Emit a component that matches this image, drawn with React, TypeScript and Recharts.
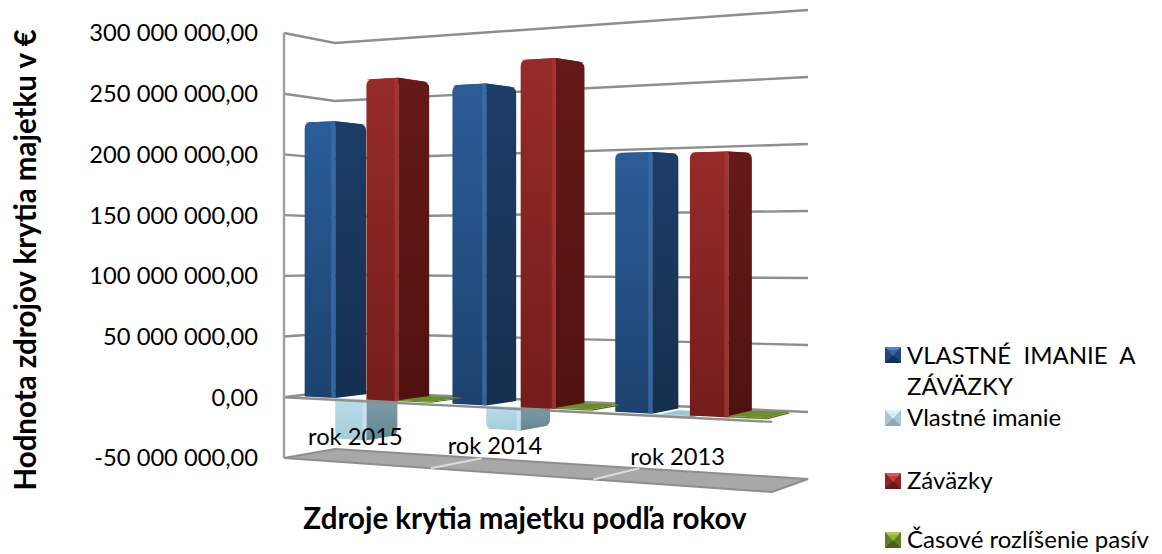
import React from "react";
import { BarChart, Bar, XAxis, YAxis, CartesianGrid, Legend, ReferenceLine } from "recharts";

const years = ["rok 2015", "rok 2014", "rok 2013"];
const equityAndLiabilities = [227000000, 252000000, 195000000];
const equity = [-33000000, -18000000, -1500000];
const liabilities = [260000000, 269000000, 194000000];
const deferredIncome = [800000, 900000, 1000000];
const yTicks = [-50000000, 0, 50000000, 100000000, 150000000, 200000000, 250000000, 300000000];

const seriesNames = ["VLASTNÉ  IMANIE  A ZÁVÄZKY", "Vlastné imanie", "Záväzky", "Časové rozlíšenie pasív"];

const chartData = years.map((year, i) => ({
  year,
  total: equityAndLiabilities[i],
  equity: equity[i],
  liabilities: liabilities[i],
  deferred: deferredIncome[i],
}));

const FONT = "Lato, sans-serif";
const LEFT = 284;
const TOP = 33;
const WIDTH = 488;
const HEIGHT = 425;
const Y_MIN = -50000000;
const Y_MAX = 300000000;
const GRID = "#8e8e8e";

const lerp = (a: number, b: number, t: number) => a + (b - a) * t;

const frontX = (u: number) => 284 + 416 * u + 72 * u * u;

// fake 3D: u = across the categories, d = depth, v = 0 at the axis minimum, 1 at the maximum
const project = (u: number, d: number, v: number): [number, number] => {
  const xBack = 335 + 423 * u + 50 * u * u;
  const x = lerp(frontX(u), xBack, d);
  const p = (x - lerp(284, 335, d)) / (lerp(772, 808, d) - lerp(284, 335, d));
  const top = lerp(lerp(33, 1, p), lerp(43, 10, p), d);
  const bottom = lerp(lerp(458, 492, p), lerp(449, 479, p), d);
  return [x, lerp(bottom, top, v)];
};

const toU = (px: number) => (px - LEFT) / WIDTH;
const toV = (py: number) => (TOP + HEIGHT - py) / HEIGHT;
const pts = (list: [number, number][]) => list.map((q) => `${q[0]},${q[1]}`).join(" ");

const palettes: Record<string, { id: string; strip: string; top: string }> = {
  blue: { id: "blue", strip: "#3a6ea8", top: "#27538a" },
  ice: { id: "ice", strip: "#c9e5f0", top: "#9fc4d3" },
  red: { id: "red", strip: "#a8352f", top: "#8c2725" },
  green: { id: "green", strip: "#7d9c34", top: "#6d8c2b" },
};

const DEPTH_FRONT = 0.2;
const DEPTH_BACK = 0.8;

const makeBox = (kind: string) => (props: any) => {
  const { x, y, width, height } = props;
  const pal = palettes[kind];
  const u0 = toU(x);
  const u1 = toU(x + width);
  const vZero = (0 - Y_MIN) / (Y_MAX - Y_MIN);
  const vA = toV(y);
  const vB = toV(y + height);
  const vFar = Math.abs(vA - vZero) > Math.abs(vB - vZero) ? vA : vB;
  const a = project(u0, DEPTH_FRONT, vZero);
  const b = project(u1, DEPTH_FRONT, vZero);
  const c = project(u1, DEPTH_BACK, vZero);
  const at = project(u0, DEPTH_FRONT, vFar);
  const bt = project(u1, DEPTH_FRONT, vFar);
  const ct = project(u1, DEPTH_BACK, vFar);
  const dt = project(u0, DEPTH_BACK, vFar);
  const reach = Math.abs(at[1] - a[1]);
  const r = Math.min(6, reach);
  const s = vFar > vZero ? 1 : -1; // which way the far end sits
  const leftFace = `M${a[0]},${a[1]} L${at[0]},${at[1] + s * r} Q${at[0]},${at[1]} ${at[0] + r},${lerp(at[1], bt[1], r / (bt[0] - at[0]))} L${bt[0]},${bt[1]} L${b[0]},${b[1]} Z`;
  const rightFace = `M${b[0]},${b[1]} L${bt[0]},${bt[1]} L${ct[0] - r},${lerp(ct[1], bt[1], r / (ct[0] - bt[0]))} Q${ct[0]},${ct[1]} ${ct[0]},${ct[1] + s * r} L${c[0]},${c[1]} Z`;
  return (
    <g>
      <polygon points={pts([at, bt, ct, dt])} fill={pal.top} />
      <path d={leftFace} fill={`url(#${pal.id}Left)`} />
      <path d={rightFace} fill={`url(#${pal.id}Right)`} />
      {reach > 12 && (
        <polygon
          points={pts([
            [b[0] - 4, b[1] - 0.2],
            [bt[0] - 4, bt[1] + s * 0.2],
            bt,
            b,
          ])}
          fill={pal.strip}
          opacity={0.8}
        />
      )}
    </g>
  );
};

const gradient = (id: string, from: string, to: string) => (
  <linearGradient id={id} x1="0" y1="0" x2="0" y2="1">
    <stop offset="0%" stopColor={from} />
    <stop offset="100%" stopColor={to} />
  </linearGradient>
);

// back wall lines, plus the floor at the bottom tick and the zero plane edge
const WallLine = (props: any) => {
  const v = toV(props.y1);
  const fl = project(0, 0, v);
  const bl = project(0, 1, v);
  const br = project(1, 1, v);
  const fr = project(1, 0, v);
  if (v < 0.01) {
    const dividers = [1 / 3, 2 / 3].map((u) => [project(u, 0, v), project(u, 1, v)]);
    return (
      <g key={props.key}>
        <polygon points={pts([fl, bl, br, fr])} fill="#a8a8a8" stroke={GRID} strokeWidth={2} />
        {dividers.map((line, i) => (
          <line key={i} x1={line[0][0]} y1={line[0][1]} x2={line[1][0]} y2={line[1][1]} stroke="#dcdcdc" strokeWidth={2} />
        ))}
      </g>
    );
  }
  return <polyline key={props.key} points={pts([fl, bl, br])} fill="none" stroke={GRID} strokeWidth={2.4} />;
};

const ZeroEdge = (props: any) => {
  const v = toV(props.y1 ?? props.y);
  const fl = project(0, 0, v);
  const fr = project(1, 0, v);
  return <line x1={fl[0]} y1={fl[1]} x2={fr[0]} y2={fr[1]} stroke={GRID} strokeWidth={2.4} />;
};

const tickNudge = [0, -15, -3];
const LABEL_LEVEL = 22000000;

const YearTick = (props: any) => {
  const { x, index, payload } = props;
  const u = toU(x);
  const [, py] = project(u, 0, LABEL_LEVEL / (Y_MAX - Y_MIN));
  return (
    <text x={frontX(u) + tickNudge[index]} y={py} textAnchor="middle" dominantBaseline="central" fontFamily={FONT} fontSize={23.7} fill="#000">
      {payload.value}
    </text>
  );
};

const formatMoney = (value: number) => value.toFixed(2).replace(".", ",").replace(/\B(?=(\d{3})+(?!\d))(?=.*,)/g, " ");

const legendTops = [338.5, 407, 470, 529];
const legendLineHeights = [31, 20, 20, 20];
const legendSwatches = [
  ["#14305a", "#2f66a6", "#1f4880", "#4d86c4"],
  ["#8fa9b3", "#d6ecf4", "#a9c7d3", "#e2f2f8"],
  ["#6a1715", "#c0403c", "#8f2422", "#d65a55"],
  ["#46601a", "#93b540", "#627f25", "#a9c95a"],
];

const renderLegend = (props: any) => (
  <div style={{ position: "relative", width: 277, height: 215, fontFamily: FONT, fontSize: 24, color: "#000" }}>
    {props.payload.map((entry: any, i: number) => {
      const [dark, light, mid, glow] = legendSwatches[i];
      const lh = legendLineHeights[i];
      return (
        <div key={entry.value} style={{ position: "absolute", left: 0, top: legendTops[i] - 339, display: "flex", alignItems: "flex-start" }}>
          <svg width={16} height={16} style={{ marginTop: lh / 2 - 7, flex: "none" }}>
            <rect width={16} height={16} fill={mid} />
            <polygon points="0,0 16,0 8,8" fill={glow} />
            <polygon points="0,16 16,16 8,8" fill={dark} />
            <polygon points="3,3 13,3 8,9" fill={light} />
          </svg>
          <div style={{ marginLeft: 6, width: 254, lineHeight: `${lh}px`, whiteSpace: "pre-wrap" }}>{entry.value}</div>
        </div>
      );
    })}
  </div>
);

export default function App() {
  return (
    <div style={{ position: "absolute", left: 0, top: 0, background: "#fff" }}>
      <BarChart
        width={1162}
        height={554}
        data={chartData}
        margin={{ top: TOP, right: 1162 - LEFT - WIDTH, bottom: 76, left: 84 }}
        barCategoryGap="7.5%"
        barGap={0}
      >
        <defs>
          {gradient("blueLeft", "#2b5d98", "#1d4270")}
          {gradient("blueRight", "#1d3d66", "#152f4f")}
          {gradient("iceLeft", "#b9dce9", "#a6cddb")}
          {gradient("iceRight", "#7f9ea9", "#668792")}
          {gradient("redLeft", "#962b29", "#741d1b")}
          {gradient("redRight", "#651a18", "#50120f")}
          {gradient("greenLeft", "#6d8c2b", "#5a7522")}
          {gradient("greenRight", "#56701f", "#46601a")}
        </defs>
        <CartesianGrid vertical={false} horizontal={WallLine} />
        <XAxis
          dataKey="year"
          height={20}
          axisLine={false}
          tickLine={false}
          tick={YearTick}
          interval={0}
          label={() => (
            <text x={525} y={517} textAnchor="middle" dominantBaseline="central" fontFamily={FONT} fontSize={29.5} fontWeight={700} fill="#000">
              Zdroje krytia majetku podľa rokov
            </text>
          )}
        />
        <YAxis
          width={200}
          domain={[Y_MIN, Y_MAX]}
          ticks={yTicks}
          interval={0}
          tickFormatter={formatMoney}
          tickSize={0}
          tickMargin={26}
          axisLine={{ stroke: "#a0a0a0", strokeWidth: 2.4 }}
          tick={{ fontFamily: FONT, fontSize: 23.7, fill: "#000" }}
          label={() => (
            <text
              x={24}
              y={260}
              transform="rotate(-90 24 260)"
              textAnchor="middle"
              dominantBaseline="central"
              fontFamily={FONT}
              fontSize={29.5}
              fontWeight={700}
              fill="#000"
            >
              Hodnota zdrojov krytia majetku v €
            </text>
          )}
        />
        <Legend
          layout="vertical"
          align="center"
          verticalAlign="middle"
          content={renderLegend}
          wrapperStyle={{ position: "absolute", left: 885, top: 339, width: 277 }}
        />
        <Bar dataKey="total" name={seriesNames[0]} fill="#2b5d98" isAnimationActive={false} shape={makeBox("blue")} />
        <Bar dataKey="equity" name={seriesNames[1]} fill="#b9dce9" isAnimationActive={false} shape={makeBox("ice")} />
        <Bar dataKey="liabilities" name={seriesNames[2]} fill="#962b29" isAnimationActive={false} shape={makeBox("red")} />
        <Bar dataKey="deferred" name={seriesNames[3]} fill="#6d8c2b" isAnimationActive={false} shape={makeBox("green")} />
        <ReferenceLine y={0} shape={ZeroEdge} />
      </BarChart>
    </div>
  );
}
